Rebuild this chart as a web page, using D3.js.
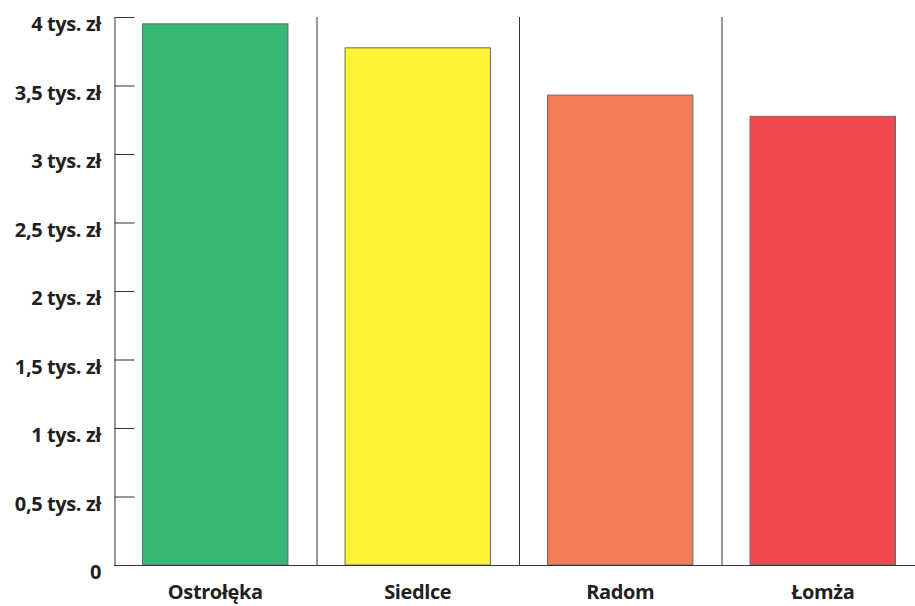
<!DOCTYPE html>
<html>
<head>
<meta charset="utf-8">
<script src="https://cdn.jsdelivr.net/npm/d3@7"></script>
<style>
  body { margin: 0; background: #fff; }
  text { font-family: "Open Sans", sans-serif; font-weight: 700; fill: #231f20; }
</style>
</head>
<body>
<svg id="chart"></svg>
<script>
var cities = ['Ostrołęka', 'Siedlce', 'Radom', 'Łomża'];
var salaries = [3.95, 3.775, 3.43, 3.275];
var colors = ['#35b874', '#fff133', '#f37c54', '#f04a4f'];
var yTicks = [0, 0.5, 1, 1.5, 2, 2.5, 3, 3.5, 4];

(function () {
  var width = 915, height = 606;
  var margin = {top: 17, left: 114, bottom: 41};
  var svg = d3.select('#chart').attr('width', width).attr('height', height);

  var x = d3.scaleBand().domain(cities).range([margin.left, margin.left + 4 * 202.5]).padding(0);
  var y = d3.scaleLinear().domain([0, 4]).range([height - margin.bottom, margin.top]);
  var barW = x.bandwidth() * 0.718;

  function fmt(d) {
    if (d === 0) return '0';
    return String(d).replace('.', ',') + ' tys. zł';
  }

  // separators between categories
  svg.selectAll('.sep')
    .data(cities.slice(1))
    .enter().append('line')
    .attr('class', 'sep')
    .attr('x1', function(d) { return x(d) + 0.5; })
    .attr('x2', function(d) { return x(d) + 0.5; })
    .attr('y1', y(4))
    .attr('y2', y(0))
    .style('stroke', '#333')
    .style('stroke-width', 1);

  svg.selectAll('.bar')
    .data(cities)
    .enter().append('rect')
    .attr('class', 'bar')
    .attr('x', function(d) { return x(d) + (x.bandwidth() - barW) / 2; })
    .attr('width', barW)
    .attr('y', function(d, i) { return y(salaries[i]); })
    .attr('height', function(d, i) { return y(0) - y(salaries[i]); })
    .style('fill', function(d, i) { return colors[i]; })
    .style('stroke', '#6b6b6b')
    .style('stroke-width', 1);

  var yAxis = svg.append('g')
    .attr('class', 'axis axis--y')
    .attr('transform', 'translate(' + (margin.left + 0.5) + ',0)')
    .call(d3.axisRight(y).tickValues(yTicks).tickSize(20).tickSizeOuter(0).tickFormat(''));
  yAxis.selectAll('path, line').style('stroke', '#333');

  svg.selectAll('.ylab')
    .data(yTicks)
    .enter().append('text')
    .attr('class', 'ylab')
    .attr('x', 101)
    .attr('y', function(d) { return y(d) + 7; })
    .attr('dy', '0.35em')
    .style('text-anchor', 'end')
    .style('font-size', '20px')
    .style('letter-spacing', '-0.4px')
    .text(fmt);

  svg.append('line')
    .attr('x1', margin.left)
    .attr('x2', width)
    .attr('y1', y(0) + 0.5)
    .attr('y2', y(0) + 0.5)
    .style('stroke', '#333');

  svg.selectAll('.xlab')
    .data(cities)
    .enter().append('text')
    .attr('class', 'xlab')
    .attr('x', function(d) { return x(d) + x.bandwidth() / 2; })
    .attr('y', 592)
    .attr('dy', '0.35em')
    .style('text-anchor', 'middle')
    .style('font-size', '20px')
    .style('letter-spacing', '-0.4px')
    .text(function(d) { return d; });
})();
</script>
</body>
</html>
